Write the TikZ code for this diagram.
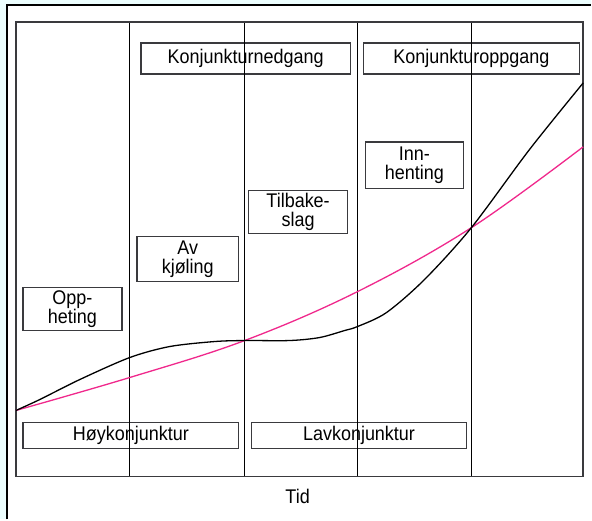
\documentclass[tikz,border=0pt]{standalone}
\usepackage{fontspec}
\setmainfont{Liberation Sans}
\usetikzlibrary{positioning}
\definecolor{bgcyan}{RGB}{236,254,254}
\definecolor{framegray}{RGB}{58,58,62}
\definecolor{trendpink}{RGB}{240,40,140}
\newcommand{\tall}[1]{\scalebox{1}[1.1]{#1}}

\begin{document}
\begin{tikzpicture}[
    x=1pt, y=-1pt,
    phase/.style={draw=framegray, line width=1.4pt, inner sep=0pt, align=center, font=\fontsize{18pt}{19pt}\selectfont},
    divider/.style={black, line width=1.3pt},
    curve/.style={line width=1.3pt, #1},
]

% ── Background ──
\fill[bgcyan] (0,0) rectangle (592,520);
\fill[white] (7,5) rectangle (592,520);
\draw[black, line width=1.6pt] (7,520) -- (7,5) -- (592,5);
\useasboundingbox (0,0) rectangle (592,520);

% ── Phases ──
\node[phase, minimum width=210pt, minimum height=31pt] (nedgang) at (246,58.5) {\tall{Konjunkturnedgang}};
\node[phase, minimum width=216pt, minimum height=31pt] (oppgang) at (472,58.5) {\tall{Konjunkturoppgang}};
\node[phase, minimum width=99pt, minimum height=43pt] (oppheting) at (72.5,309.5) {\tall{Opp-}\\\tall{heting}};
\node[phase, minimum width=102pt, minimum height=45pt] (avkjoling) at (188,259.5) {\tall{Av}\\\tall{kjøling}};
\node[phase, minimum width=99pt, minimum height=43pt] (tilbakeslag) at (298.5,212.5) {\tall{Tilbake-}\\\tall{slag}};
\node[phase, minimum width=98pt, minimum height=47pt] (innhenting) at (415,165.5) {\tall{Inn-}\\\tall{henting}};
\node[phase, minimum width=216pt, minimum height=26pt] (hoy) at (131,436) {\tall{Høykonjunktur}};
\node[phase, minimum width=215pt, minimum height=26pt] (lav) at (359.5,436) {\tall{Lavkonjunktur}};

% ── Axis label ──
\node[font=\fontsize{18pt}{17pt}\selectfont] (tid) at (298,497) {\tall{Tid}};

% ── Frame and dividers ──
\foreach \xd in {130,245,358,472}
    \draw[divider] (\xd,22) -- (\xd,477);
\draw[framegray, line width=1.6pt] (16,22) rectangle (584,477);

% ── Trend and actual output ──
\draw[curve=trendpink] plot[smooth, tension=0.6] coordinates {(16,411) (130,378) (245,341) (358,292) (472,228) (584,147)};
\draw[curve=black] plot[smooth, tension=0.5] coordinates {(16,411) (40,400) (80,380) (130,358) (170,347) (215,342) (245,341) (290,341) (320,338) (345,331) (358,327) (387,313) (425,280) (472,228) (530,150) (584,83)};

\end{tikzpicture}
\end{document}
